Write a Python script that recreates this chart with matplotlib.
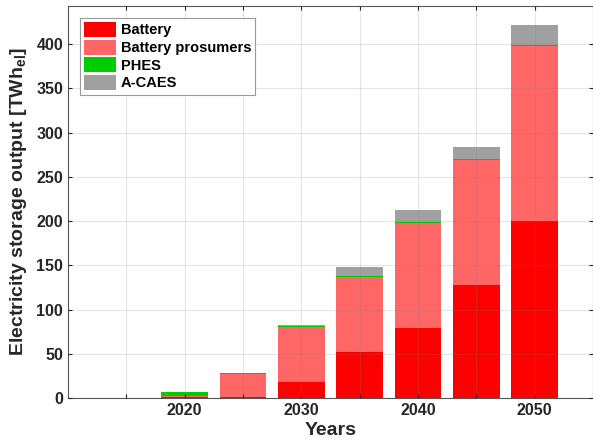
import numpy as np
import matplotlib.pyplot as plt

plt.rcParams['font.family'] = ['Liberation Sans', 'DejaVu Sans']
plt.rcParams['mathtext.fontset'] = 'custom'
plt.rcParams['mathtext.bf'] = 'Liberation Sans:bold'
plt.rcParams['mathtext.rm'] = 'Liberation Sans:bold'

# ── Data (TWh_el) ──────────────────────────────────────────────────────────────
years      = [2015, 2020, 2025, 2030, 2035, 2040, 2045, 2050]
battery    = [0.0, 1.5, 1.4, 18.4, 51.7, 79.2, 128.0, 200.2]
prosumers  = [0.0, 0.3, 25.7, 61.6, 85.2, 118.8, 140.9, 197.2]
phes       = [0.0, 5.3, 0.7, 1.1, 1.1, 1.1, 1.5, 1.1]
acaes      = [0.0, 0.0, 0.2, 1.1, 10.5, 12.8, 13.1, 23.5]

series = [
    ("Battery",           battery,   "#ff0000"),
    ("Battery prosumers", prosumers, "#ff6666"),
    ("PHES",              phes,      "#00cc00"),
    ("A-CAES",            acaes,     "#a0a0a0"),
]

xticks  = [2015, 2020, 2025, 2030, 2035, 2040, 2045, 2050]
xlabels = ["", "2020", "", "2030", "", "2040", "", "2050"]
yticks  = np.arange(0, 401, 50)

TXT = "#262626"

fig = plt.figure(figsize=(5.93, 4.48), dpi=100)
ax = fig.add_axes([0.1147, 0.1116, 0.885, 0.875])

bottom = np.zeros(len(years))
for label, vals, color in series:
    ax.bar(years, vals, width=4, bottom=bottom, color=color, label=label,
           edgecolor="none", linewidth=0, zorder=2)
    bottom += np.array(vals)

ax.set_xlim(2010, 2055)
ax.set_ylim(0, 443)
ax.set_xticks(xticks)
ax.set_xticklabels(xlabels)
ax.set_yticks(yticks)
ax.grid(True, color="#808080", alpha=0.2, lw=0.8, zorder=3)
ax.set_axisbelow(False)
ax.tick_params(direction="in", length=3, colors=TXT, labelsize=11.5,
               top=True, right=True)
for lab in ax.get_xticklabels() + ax.get_yticklabels():
    lab.set_fontweight("bold")
for sp in ax.spines.values():
    sp.set_color("#555555")
    sp.set_linewidth(0.8)

ax.set_xlabel("Years", fontsize=14, fontweight="bold", color=TXT, labelpad=3)
ax.set_ylabel(r"Electricity storage output [TWh$_{\mathbf{el}}$]", fontsize=14,
              fontweight="bold", color=TXT, labelpad=5)

leg = ax.legend(loc="upper left", frameon=True, fancybox=False,
                edgecolor="#999999", framealpha=1, borderpad=0.3,
                handlelength=2.2, handleheight=1.2, handletextpad=0.3,
                labelspacing=0.15, borderaxespad=0.8,
                prop={"weight": "bold", "size": 10.5})
leg.get_frame().set_linewidth(0.8)

fig.savefig("out.png", dpi=100, facecolor="white")
